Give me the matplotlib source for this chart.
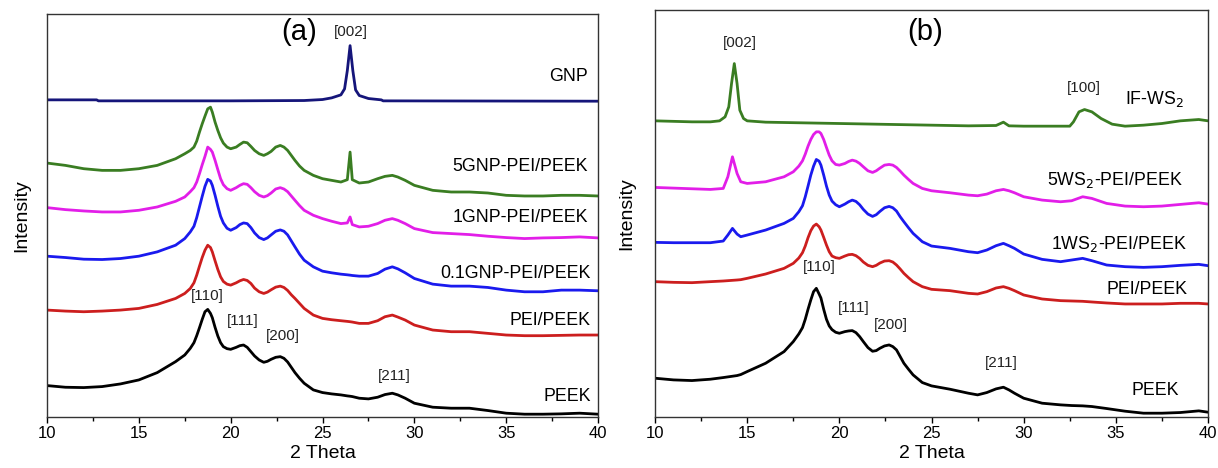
import matplotlib
matplotlib.use("Agg")
import matplotlib.pyplot as plt
from matplotlib.ticker import MultipleLocator

plt.rcParams['font.family'] = ['Liberation Sans', 'DejaVu Sans']

# ---------------- Panel (a) data (2theta vs stacked intensity, arbitrary units) ----------------
gnp_x = [10, 12.7, 12.8, 20, 24, 25, 25.5, 26, 26.2, 26.35, 26.5, 26.65, 26.8, 27, 27.5, 28.2, 28.3, 40]
gnp_y = [952, 952, 949, 949, 950, 953, 958, 967, 985, 1040, 1115, 1040, 982, 965, 956, 952, 949, 948]

tt_a = [10, 11, 12, 13, 14, 15, 16, 17,
        17.5, 17.8, 18, 18.15, 18.3, 18.45, 18.6, 18.75, 18.9, 19.0,
        19.15, 19.3, 19.45, 19.6, 19.8,
        20, 20.3, 20.5, 20.7, 20.9,
        21.1, 21.3, 21.55, 21.8,
        22.0, 22.2, 22.45, 22.7, 22.9,
        23.1, 23.3, 23.5, 23.75,
        24, 24.5,
        25, 25.5,
        26, 26.35, 26.5, 26.62,
        27, 27.5,
        28, 28.4, 28.8, 29.1, 29.5,
        30, 31, 32, 33, 34, 35, 36, 37, 38, 39, 40]

gnp5_a = [762, 755, 745, 740, 740, 745, 755, 775,
          790, 800, 810, 828, 855, 880, 903, 925, 930, 915,
          885, 860, 838, 822, 810,
          805, 810, 818, 825, 823,
          812, 800, 790, 785,
          790, 797, 810, 815, 810,
          800, 785, 770, 753,
          740, 725,
          715, 710,
          705, 712, 795, 712,
          702, 705,
          715, 722, 725, 720, 710,
          695, 680, 675, 675, 672, 665, 663, 663, 665, 665, 663]

gnp1_a = [628, 622, 618, 615, 615, 620, 630, 647,
          660, 676, 688, 705, 730, 757, 782, 810, 803, 795,
          770, 742, 715, 697, 685,
          680, 688, 695, 700, 698,
          688, 676, 665, 660,
          664, 672, 684, 688, 684,
          676, 663, 650, 634,
          620, 605,
          595, 587,
          580, 582, 600, 577,
          570, 572,
          580, 590, 595, 590, 580,
          565, 553, 550, 547, 542, 538, 535, 537, 538, 540, 537]

gnp01_a = [482, 478, 473, 472, 475, 482, 495, 515,
           535, 555, 572, 598, 630, 662, 692, 713, 708, 695,
           665, 632, 602, 582, 566,
           560, 568, 577, 582, 580,
           568, 552, 538, 532,
           537, 546, 557, 561, 557,
           546, 528, 510, 488,
           470, 450,
           437, 432,
           428, 426, 425, 424,
           422, 422,
           430, 443, 450, 444, 432,
           415, 398, 392, 392, 388, 380, 375, 375, 380, 380, 378]

pei_a = [320, 317, 315, 317, 320, 325, 337, 355,
         370, 385, 402, 425, 452, 478, 500, 515, 508, 495,
         468, 442, 420, 406, 398,
         395, 402, 408, 412, 409,
         400, 386, 375, 370,
         374, 381, 389, 392, 388,
         379, 366, 355, 340,
         325, 305,
         295, 291,
         288, 286, 285, 284,
         280, 280,
         288, 300, 305, 299, 290,
         275, 260, 255, 255, 250, 245, 243, 243, 244, 245, 245]

peek_a = [93, 88, 87, 90, 98, 110, 132, 165,
          185, 205, 222, 243, 267, 292, 315, 322, 310, 297,
          268, 242, 222, 210, 204,
          202, 208, 213, 215, 208,
          195, 182, 170, 163,
          166, 172, 178, 180, 175,
          164, 148, 132, 115,
          100, 80,
          72, 68,
          65, 62, 61, 60,
          55, 53,
          58, 66, 70, 65, 55,
          40, 28, 25, 25, 18, 10, 7, 7, 8, 10, 7]

# ---------------- Panel (b) data ----------------
ws_x = [10, 12, 13, 13.5, 13.8, 14.0, 14.15, 14.3, 14.45, 14.6, 14.8, 15, 16, 18, 20, 22, 25, 27, 28.5, 28.9,
        29.2, 30, 32, 32.5, 32.7, 33, 33.3, 33.7, 34.2, 34.8, 35.5, 36.5, 37.5, 38.5, 39.5, 40]
ws_y = [888, 885, 885, 888, 900, 930, 1000, 1060, 1000, 920, 895, 888, 884, 882, 880, 878, 875, 873, 874, 884,
        873, 872, 872, 872, 885, 915, 922, 915, 895, 878, 872, 875, 880, 888, 892, 888]

tt_b = [10, 11, 12, 13,
        13.7, 13.95, 14.2, 14.45, 14.65,
        15, 16, 17,
        17.5, 17.8, 18, 18.15, 18.3, 18.45, 18.6, 18.75, 18.9, 19.0,
        19.15, 19.3, 19.45, 19.6, 19.8,
        20, 20.3, 20.5, 20.7, 20.9,
        21.1, 21.3, 21.55, 21.8,
        22.0, 22.2, 22.45, 22.7, 22.9,
        23.1, 23.3, 23.5, 23.75,
        24, 24.5,
        25, 26, 27, 27.5,
        28, 28.5, 28.9, 29.2, 29.5,
        30, 31, 32, 32.6,
        33.2, 33.7, 34.5, 35.5,
        36.5, 37.5, 38.5, 39.5, 40]

ws5_b = [688, 686, 684, 682,
         685, 720, 780, 730, 705,
         700, 705, 720,
         735, 752, 768, 788, 812, 832, 847, 855, 855, 850,
         832, 808, 785, 768, 757,
         755, 760, 766, 770, 767,
         760, 750, 738, 733,
         738, 746, 755, 757, 755,
         748, 737, 725, 712,
         700, 685,
         678, 672, 665, 663,
         668, 678, 682, 678, 672,
         660, 650, 645, 648,
         660, 655, 640, 632,
         630, 632, 637, 642, 638]

ws1_b = [523, 522, 522, 522,
         527, 545, 565, 548, 540,
         545, 560, 580,
         595, 615, 633, 660, 692, 725, 752, 772, 767, 755,
         725, 692, 665, 647, 636,
         630, 638, 645, 650, 646,
         636, 622, 608, 601,
         606, 616, 627, 631, 627,
         617, 600, 585, 567,
         550, 525,
         512, 505, 495, 492,
         500, 513, 520, 513, 505,
         488, 472, 465, 470,
         475, 468, 455, 450,
         448, 450, 454, 457, 453]

pei_b = [405, 403, 402, 405,
         407, 408, 409, 410, 411,
         415, 428, 445,
         460, 476, 492, 512, 537, 558, 572, 578, 570, 560,
         538, 515, 495, 482, 477,
         475, 482, 486, 487, 483,
         475, 464, 454, 450,
         454, 461, 467, 468, 464,
         455, 443, 430, 417,
         405, 390,
         382, 378, 370, 368,
         375, 386, 390, 385, 378,
         365, 353, 348, 347,
         346, 344, 341, 338,
         338, 338, 340, 340, 338]

peek_b = [115, 110, 108, 112,
          117, 119, 121, 123, 126,
          135, 160, 195,
          225, 248, 267, 292, 322, 350, 375, 385, 368, 356,
          322, 292, 272, 261, 253,
          250, 255, 257, 258, 252,
          240, 225, 207, 196,
          198, 205, 212, 215, 210,
          200, 180, 160, 142,
          125, 102,
          92, 82, 70, 65,
          72, 83, 88, 80, 70,
          55, 40, 35, 33,
          32, 30, 24, 16,
          10, 10, 12, 17, 13]

xticks = [10, 15, 20, 25, 30, 35, 40]

fig = plt.figure(figsize=(12.18, 4.68), dpi=100)
axA = fig.add_axes([0.0386, 0.110, 0.4524, 0.860])
axB = fig.add_axes([0.5378, 0.110, 0.4540, 0.868])

c_navy = '#15157a'
c_green = '#3a7d22'
c_mag = '#e21ee8'
c_blue = '#1a1aee'
c_red = '#cc1e1e'
c_black = '#000000'
lw = 2.0

axA.plot(gnp_x, gnp_y, color=c_navy, lw=lw)
axA.plot(tt_a, gnp5_a, color=c_green, lw=lw)
axA.plot(tt_a, gnp1_a, color=c_mag, lw=lw)
axA.plot(tt_a, gnp01_a, color=c_blue, lw=lw)
axA.plot(tt_a, pei_a, color=c_red, lw=lw)
axA.plot(tt_a, peek_a, color=c_black, lw=lw)

axB.plot(ws_x, ws_y, color=c_green, lw=lw)
axB.plot(tt_b, ws5_b, color=c_mag, lw=lw)
axB.plot(tt_b, ws1_b, color=c_blue, lw=lw)
axB.plot(tt_b, pei_b, color=c_red, lw=lw)
axB.plot(tt_b, peek_b, color=c_black, lw=lw)

for ax, top, lp in ((axA, 1210, 12), (axB, 1220, 14)):
    ax.set_xlim(10, 40)
    ax.set_ylim(0, top)
    ax.set_xticks(xticks)
    ax.xaxis.set_minor_locator(MultipleLocator(2.5))
    ax.set_yticks([])
    ax.tick_params(axis='x', which='major', direction='out', length=4, width=1, labelsize=12, pad=3)
    ax.tick_params(axis='x', which='minor', direction='out', length=3, width=1)
    ax.set_xlabel('2 Theta', fontsize=14, labelpad=3)
    ax.set_ylabel('Intensity', fontsize=14, labelpad=lp)
    for s in ax.spines.values():
        s.set_linewidth(1.0)
        s.set_color('#333333')

lab = dict(fontsize=12.8, ha='right', va='center')
axA.text(39.45, 1022, 'GNP', **lab)
axA.text(39.45, 752, '5GNP-PEI/PEEK', **lab)
axA.text(39.45, 598, '1GNP-PEI/PEEK', **lab)
axA.text(39.6, 430, '0.1GNP-PEI/PEEK', **lab)
axA.text(39.6, 288, 'PEI/PEEK', **lab)
axA.text(39.6, 60, 'PEEK', **lab)

pk = dict(fontsize=11, ha='center', va='center', color='#222222')
axA.text(18.72, 362, '[110]', **pk)
axA.text(20.67, 287, '[111]', **pk)
axA.text(22.84, 242, '[200]', **pk)
axA.text(28.9, 122, '[211]', **pk)
axA.text(26.57, 1157, '[002]', **pk)
axA.text(23.75, 1155, '(a)', fontsize=21, ha='center', va='center')

axB.text(38.72, 955, 'IF-WS$_2$', **lab)
axB.text(38.6, 710, '5WS$_2$-PEI/PEEK', **lab)
axB.text(38.87, 519, '1WS$_2$-PEI/PEEK', **lab)
axB.text(38.87, 381, 'PEI/PEEK', **lab)
axB.text(38.45, 78, 'PEEK', **lab)

axB.text(18.93, 450, '[110]', **pk)
axB.text(20.76, 325, '[111]', **pk)
axB.text(22.8, 275, '[200]', **pk)
axB.text(28.78, 160, '[211]', **pk)
axB.text(14.58, 1123, '[002]', **pk)
axB.text(33.26, 988, '[100]', **pk)
axB.text(24.64, 1155, '(b)', fontsize=21, ha='center', va='center')

fig.savefig('out.png', dpi=100)
